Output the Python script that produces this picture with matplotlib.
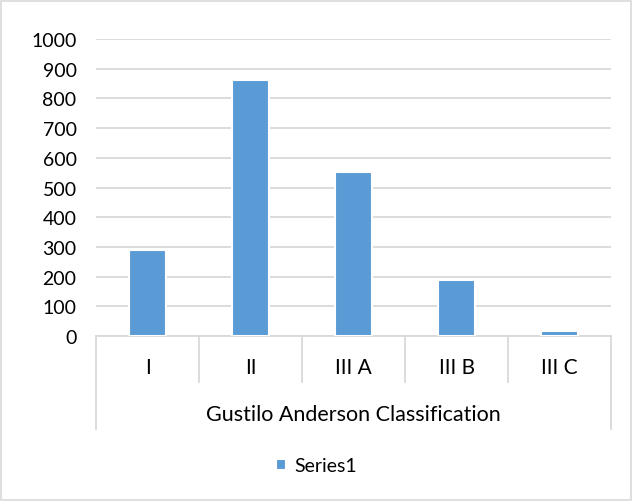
import numpy as np
import matplotlib.pyplot as plt
from matplotlib.patches import Rectangle

# Data
categories = ['I', 'II', 'III A', 'III B', 'III C']
values = [288, 862, 553, 187, 16]
group_label = 'Gustilo Anderson Classification'
series_name = 'Series1'

bar_color = '#5B9BD5'
grid_color = '#D9D9D9'
text_color = '#000000'

plt.rcParams['font.family'] = ['Lato', 'DejaVu Sans']

fig = plt.figure(figsize=(6.33, 5.02), dpi=100)
ax = fig.add_axes([0.1517, 0.329, 0.8136, 0.591])

x = np.arange(len(categories))
ax.bar(x, values, width=0.36, color=bar_color, edgecolor='white', linewidth=1.5,
       zorder=3, label=series_name)

ax.set_xlim(-0.5, len(categories) - 0.5)
ax.set_ylim(0, 1000)
ax.set_yticks(np.arange(0, 1001, 100))
ax.tick_params(axis='y', length=0, pad=14, labelsize=14)
ax.set_xticks([])
ax.yaxis.grid(True, color=grid_color, linewidth=1.3, zorder=0)
for s in ['left', 'right', 'top']:
    ax.spines[s].set_visible(False)
ax.spines['bottom'].set_color(grid_color)
ax.spines['bottom'].set_linewidth(1.3)

# Multi-level category axis
trans = ax.get_xaxis_transform()
inner_bottom = -0.155
outer_bottom = -0.313
for b in np.arange(0.5, len(categories) - 1, 1.0):
    ax.plot([b, b], [0, inner_bottom], transform=trans, color=grid_color,
            linewidth=1.3, clip_on=False)
for b in [-0.5, len(categories) - 0.5]:
    ax.plot([b, b], [0, outer_bottom], transform=trans, color=grid_color,
            linewidth=1.3, clip_on=False)
for xi, cat in zip(x, categories):
    ax.text(xi, -0.104, cat, transform=trans, ha='center', va='center',
            fontsize=15, color=text_color)
ax.text((len(categories) - 1) / 2, -0.263, group_label, transform=trans,
        ha='center', va='center', fontsize=15.5, color=text_color)

fig.legend(loc='center', bbox_to_anchor=(0.5, 1 - 467 / 502), frameon=False,
           fontsize=14, handlelength=0.5, handleheight=0.5, handletextpad=0.4)

# chart border
fig.patches.append(Rectangle((0.002, 0.002), 0.995, 0.995, transform=fig.transFigure,
                             fill=False, edgecolor=grid_color, linewidth=1.2))

fig.savefig('out.png', dpi=100)
